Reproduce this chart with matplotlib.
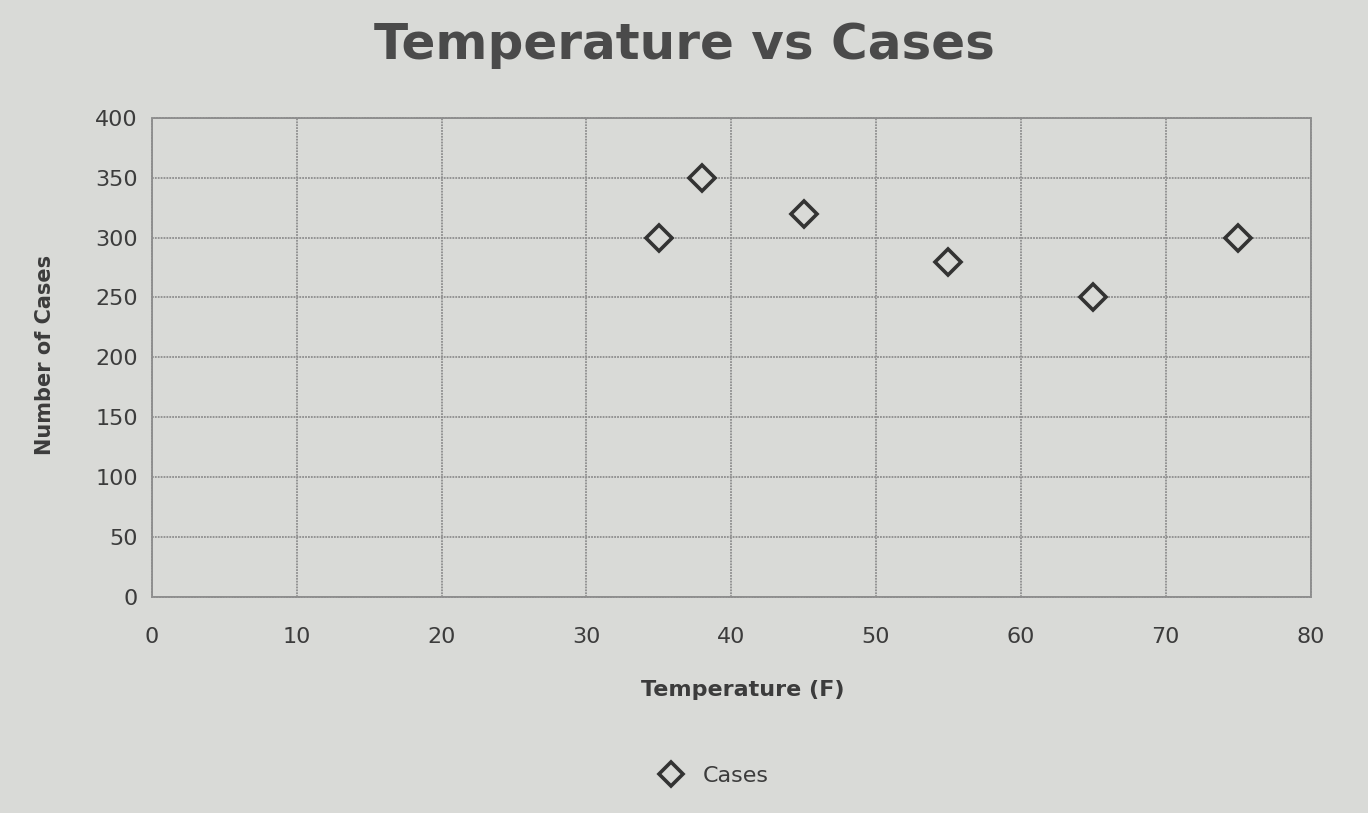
import matplotlib.pyplot as plt
from matplotlib.lines import Line2D

# data
temps = [35, 38, 45, 55, 65, 75]
cases = [300, 350, 320, 280, 250, 300]
x_ticks = [0, 10, 20, 30, 40, 50, 60, 70, 80]
y_ticks = [0, 50, 100, 150, 200, 250, 300, 350, 400]

bg = '#d9dad7'
ink = '#3c3c3c'
grid_col = '#8e8e8e'

fig = plt.figure(figsize=(13.68, 8.13), dpi=100, facecolor=bg)
ax = fig.add_axes([0.111, 0.266, 0.847, 0.589], facecolor=bg)

ax.plot(temps, cases, linestyle='none', marker='D', markersize=13,
        markerfacecolor=bg, markeredgecolor='#333333', markeredgewidth=2.6,
        label='Cases', zorder=3)

ax.set_xlim(0, 80)
ax.set_ylim(0, 400)
ax.set_xticks(x_ticks)
ax.set_yticks(y_ticks)
ax.grid(True, color=grid_col, linewidth=1.3, linestyle=(0, (1, 0.6)))
ax.set_axisbelow(True)
for s in ax.spines.values():
    s.set_color(grid_col)
    s.set_linewidth(1.3)
    s.set_linestyle((0, (1, 0.6)))
ax.tick_params(length=0, labelsize=16, labelcolor=ink)
ax.tick_params(axis='x', pad=22)
ax.tick_params(axis='y', pad=10)

fig.text(0.5, 0.945, 'Temperature vs Cases', ha='center', va='center',
         fontsize=36, fontweight='bold', color='#4a4a4a')
fig.text(0.033, 0.563, 'Number of Cases', rotation=90, ha='center', va='center',
         fontsize=15, fontweight='bold', color=ink)
fig.text(0.543, 0.151, 'Temperature (F)', ha='center', va='center',
         fontsize=16, fontweight='bold', color=ink)

handle = Line2D([], [], linestyle='none', marker='D', markersize=12,
                markerfacecolor=bg, markeredgecolor='#333333', markeredgewidth=2.6)
fig.legend([handle], ['Cases'], loc='center', bbox_to_anchor=(0.518, 0.046),
           frameon=False, fontsize=16, labelcolor=ink, handletextpad=0.4)

fig.savefig('out.png', dpi=100, facecolor=bg)
